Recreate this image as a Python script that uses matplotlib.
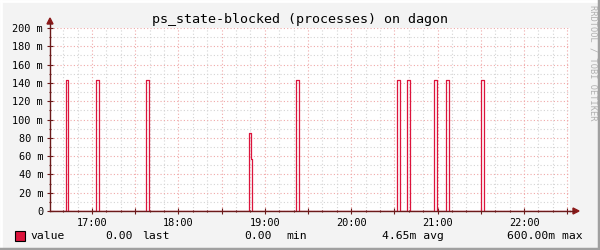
import numpy as np
import matplotlib.pyplot as plt
from matplotlib.ticker import MultipleLocator, FuncFormatter
from matplotlib.lines import Line2D
from matplotlib.patches import Rectangle, Polygon

title = "ps_state-blocked (processes) on dagon"
watermark = "RRDTOOL / TOBI OETIKER"

# time window of the graph (hh:mm:ss)
t_begin = "16:30:50"
t_end = "22:31:55"

# intervals where the value was non-zero
spike_start = ["16:41:55", "17:02:50", "17:37:30", "18:49:00", "18:50:25",
               "19:21:40", "20:31:50", "20:38:50", "20:57:30", "21:05:50",
               "21:30:05"]
spike_end = ["16:43:20", "17:04:40", "17:39:25", "18:50:25", "18:51:20",
             "19:23:30", "20:33:55", "20:40:35", "20:59:25", "21:07:40",
             "21:32:00"]
spike_value = [0.1429, 0.1429, 0.1429, 0.0857, 0.0571,
               0.1429, 0.1429, 0.1429, 0.1429, 0.1429, 0.1429]

legend_cols = ["value", "0.00", "last", "0.00", "min", "4.65m avg", "600.00m max"]


def hours(s):
    h, m, sec = [int(v) for v in s.split(":")]
    return h + m / 60 + sec / 3600


# build step series from change points (starts win over ends at same time)
changes = {hours(t_begin): 0.0, hours(t_end): 0.0}
for e in spike_end:
    changes[hours(e)] = 0.0
for s, v in zip(spike_start, spike_value):
    changes[hours(s)] = v
tx = sorted(changes)
ty = [changes[t] for t in tx]

line_col = "#DC143C"
axis_col = "#6B1A1A"
mono = "DejaVu Sans Mono"

fig = plt.figure(figsize=(6, 2.5), dpi=100)
fig.patch.set_facecolor("#F3F3F3")

ax = fig.add_axes([50 / 600, 1 - 211 / 250, 520 / 600, 183 / 250])
ax.set_facecolor("white")
ax.step(tx, ty, where="post", color=line_col, lw=0.9, zorder=3)

ax.set_xlim(hours(t_begin), hours(t_end))
ax.set_ylim(0, 0.2)

ax.xaxis.set_major_locator(MultipleLocator(0.5))
ax.xaxis.set_minor_locator(MultipleLocator(1 / 6))
ax.yaxis.set_major_locator(MultipleLocator(0.02))
ax.yaxis.set_minor_locator(MultipleLocator(0.01))

ax.grid(which="major", color="#F0A8A8", ls=(0, (1, 2)), lw=0.8)
ax.grid(which="minor", color="#D4D4D4", ls=(0, (1, 2)), lw=0.8)
ax.set_axisbelow(True)


def xfmt(v, pos):
    if abs(v - round(v)) < 1e-6:
        return "%02d:00" % int(round(v))
    return ""


def yfmt(v, pos):
    m = int(round(v * 1000))
    return "0" if m == 0 else "%d m" % m


ax.xaxis.set_major_formatter(FuncFormatter(xfmt))
ax.yaxis.set_major_formatter(FuncFormatter(yfmt))
ax.tick_params(which="both", direction="inout", color=axis_col, labelsize=7.4,
               labelcolor="black", width=0.8)
ax.tick_params(which="major", length=4, pad=3)
ax.tick_params(which="minor", length=2)
for lab in ax.get_xticklabels() + ax.get_yticklabels():
    lab.set_family(mono)

for side in ["top", "right"]:
    ax.spines[side].set_visible(False)
for side in ["left", "bottom"]:
    ax.spines[side].set_color(axis_col)
    ax.spines[side].set_linewidth(1)
    ax.spines[side].set_zorder(4)

# axis arrows
fig.add_artist(Line2D([570 / 600, 574 / 600], [1 - 211 / 250] * 2, color=axis_col, lw=1))
fig.add_artist(Polygon([[573 / 600, 1 - 208 / 250], [579 / 600, 1 - 211 / 250],
                        [573 / 600, 1 - 214 / 250]], closed=True, color="#8B1A1A"))
fig.add_artist(Line2D([50 / 600] * 2, [1 - 28 / 250, 1 - 23 / 250], color=axis_col, lw=1))
fig.add_artist(Polygon([[47 / 600, 1 - 24 / 250], [50 / 600, 1 - 18 / 250],
                        [53 / 600, 1 - 24 / 250]], closed=True, color="#8B1A1A"))

fig.text(300 / 600, 1 - 19 / 250, title, family=mono, fontsize=9.6,
         ha="center", va="center")
fig.text(593 / 600, 1 - 5 / 250, watermark, family=mono, fontsize=6.2,
         color="#B0B0B0", rotation=270, ha="center", va="top")

# legend row
fig.add_artist(Rectangle((15 / 600, 1 - 241 / 250), 10 / 600, 10 / 250,
                         facecolor=line_col, edgecolor="black", lw=0.8))
ly = 1 - 236 / 250
fig.text(30 / 600, ly, legend_cols[0], family=mono, fontsize=8.2, va="center")
fig.text(133 / 600, ly, legend_cols[1], family=mono, fontsize=8.2, va="center", ha="right")
fig.text(142 / 600, ly, legend_cols[2], family=mono, fontsize=8.2, va="center")
fig.text(272 / 600, ly, legend_cols[3], family=mono, fontsize=8.2, va="center", ha="right")
fig.text(286 / 600, ly, legend_cols[4], family=mono, fontsize=8.2, va="center")
fig.text(444 / 600, ly, legend_cols[5], family=mono, fontsize=8.2, va="center", ha="right")
fig.text(583 / 600, ly, legend_cols[6], family=mono, fontsize=8.2, va="center", ha="right")

# 3d-ish frame
fig.add_artist(Line2D([0, 1], [1 - 0.5 / 250] * 2, color="white", lw=2))
fig.add_artist(Line2D([0.5 / 600] * 2, [0, 1], color="white", lw=2))
fig.add_artist(Line2D([0, 1], [1.2 / 250] * 2, color="#A0A0A0", lw=2.5))
fig.add_artist(Line2D([1 - 1.2 / 600] * 2, [0, 1], color="#A0A0A0", lw=2.5))

fig.savefig("out.png", dpi=100)
